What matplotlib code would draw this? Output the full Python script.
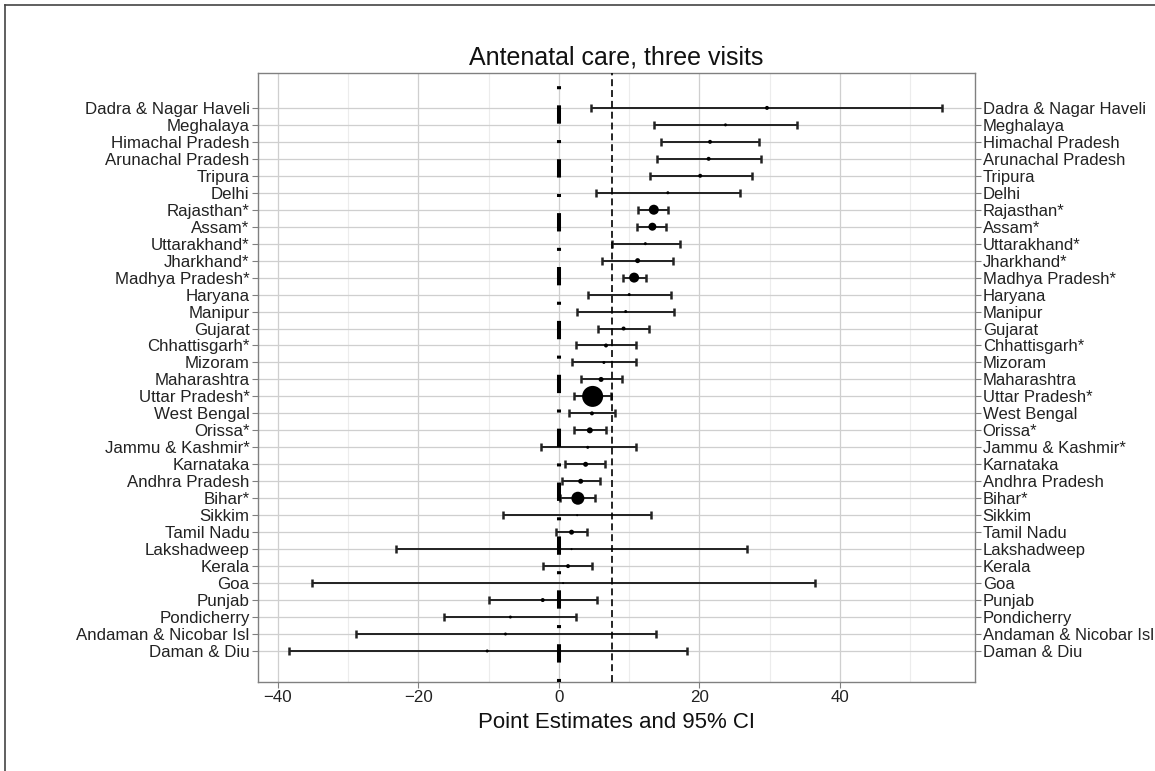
import matplotlib
matplotlib.use('Agg')
import matplotlib.pyplot as plt
import numpy as np

# states, top to bottom as in the figure
states = ['Dadra & Nagar Haveli', 'Meghalaya', 'Himachal Pradesh', 'Arunachal Pradesh',
          'Tripura', 'Delhi', 'Rajasthan*', 'Assam*', 'Uttarakhand*', 'Jharkhand*',
          'Madhya Pradesh*', 'Haryana', 'Manipur', 'Gujarat', 'Chhattisgarh*', 'Mizoram',
          'Maharashtra', 'Uttar Pradesh*', 'West Bengal', 'Orissa*', 'Jammu & Kashmir*',
          'Karnataka', 'Andhra Pradesh', 'Bihar*', 'Sikkim', 'Tamil Nadu', 'Lakshadweep',
          'Kerala', 'Goa', 'Punjab', 'Pondicherry', 'Andaman & Nicobar Isl', 'Daman & Diu']

est = [29.6, 23.7, 21.5, 21.3, 20.1, 15.5, 13.5, 13.3, 12.3, 11.2,
       10.7, 10.0, 9.5, 9.2, 6.7, 6.4, 6.0, 4.8, 4.7, 4.4, 4.1,
       3.8, 3.1, 2.7, 2.6, 1.8, 1.8, 1.3, 0.6, -2.3, -6.9, -7.6, -10.2]
lo = [4.6, 13.6, 14.5, 13.9, 12.9, 5.3, 11.3, 11.1, 7.5, 6.1,
      9.1, 4.2, 2.6, 5.5, 2.4, 1.9, 3.1, 2.2, 1.4, 2.1, -2.6,
      0.9, 0.5, 0.2, -8.0, -0.4, -23.2, -2.3, -35.1, -9.9, -16.4, -28.9, -38.4]
hi = [54.5, 33.9, 28.5, 28.7, 27.4, 25.7, 15.5, 15.3, 17.2, 16.2,
      12.4, 16.0, 16.4, 12.8, 10.9, 10.9, 9.0, 7.4, 8.0, 6.7, 10.9,
      6.6, 5.8, 5.2, 13.1, 4.0, 26.8, 4.7, 36.4, 5.4, 2.5, 13.8, 18.2]
# relative sample weight (drives dot size)
wt = [4, 3, 4, 4, 4, 3, 10, 8, 3, 5,
      10, 3, 3, 4, 4, 3, 5, 21, 4, 6, 3,
      5, 5, 13, 2, 5, 2, 4, 2, 4, 3, 3, 3]

plt.rcParams['font.family'] = ['Liberation Sans', 'DejaVu Sans']
plt.rcParams['lines.scale_dashes'] = False

fig = plt.figure(figsize=(11.55, 7.71), dpi=100)
ax = fig.add_axes([0.2234, 0.1154, 0.6208, 0.79])

n = len(states)
y = np.arange(n)[::-1]
est_a = np.array(est)
lo_a = np.array(lo)
hi_a = np.array(hi)

ax.set_xlim(-42.8, 59.2)
ax.set_ylim(-1.83, n - 1 + 2.06)

# grid like ggplot theme_bw
ax.set_xticks([-40, -20, 0, 20, 40])
ax.set_xticks([-30, -10, 10, 30, 50], minor=True)
ax.set_yticks(y)
ax.set_yticklabels(states)
ax.grid(True, which='major', color='#cfcfcf', lw=0.9)
ax.grid(True, which='minor', axis='x', color='#ececec', lw=0.8)
ax.set_axisbelow(True)

ax.errorbar(est_a, y, xerr=[est_a - lo_a, hi_a - est_a], fmt='none', ecolor='#222222',
            elinewidth=1.4, capsize=3, capthick=1.8, zorder=3)
ax.scatter(est_a, y, s=(np.array(wt) * 0.72) ** 2, color='black', zorder=5, linewidths=0)

ylo, yhi = ax.get_ylim()
ax.plot([0, 0], [ylo, yhi], color='black', lw=2.9, linestyle=(0, (2.2, 11.8, 13.2, 11.6)),
        zorder=4, solid_capstyle='butt')
ax.axvline(7.5, color='black', lw=1.2, linestyle=(0, (5, 2.8)), zorder=4)

for s in ax.spines.values():
    s.set_color('#808080')
    s.set_linewidth(1.0)

ax.tick_params(axis='both', which='major', length=4, color='#808080', labelsize=12.2,
               labelcolor='#222222', pad=2)
ax.tick_params(axis='x', which='minor', length=0)

ax2 = ax.twinx()
ax2.set_ylim(ax.get_ylim())
ax2.set_yticks(y)
ax2.set_yticklabels(states)
ax2.tick_params(axis='y', length=4, color='#808080', labelsize=12.0,
                labelcolor='#222222', pad=1.5)
for s in ax2.spines.values():
    s.set_visible(False)

ax.set_title('Antenatal care, three visits', fontsize=18, color='#111111', pad=6)
ax.set_xlabel('Point Estimates and 95% CI', fontsize=16, color='#111111', labelpad=5)

# outer frame of the screenshot
fig.add_artist(plt.Line2D([5 / 1155, 5 / 1155], [0, 1 - 5 / 771], color='#444444', lw=1.2,
                          transform=fig.transFigure))
fig.add_artist(plt.Line2D([5 / 1155, 1], [1 - 5 / 771, 1 - 5 / 771], color='#444444', lw=1.2,
                          transform=fig.transFigure))

fig.savefig('out.png', dpi=100)
